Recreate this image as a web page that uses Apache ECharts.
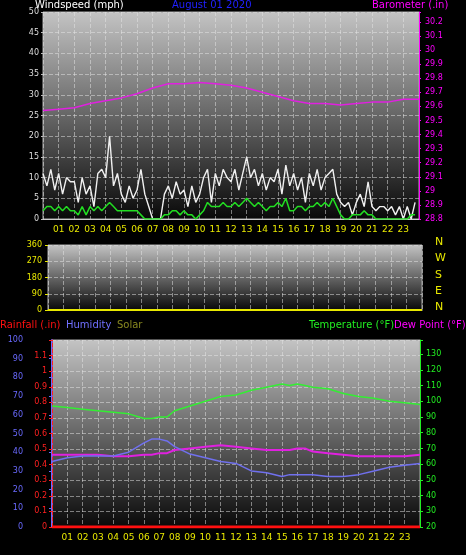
<!DOCTYPE html><html><head><meta charset="utf-8">
<script src="https://cdn.jsdelivr.net/npm/echarts@6/dist/echarts.min.js"></script>
<style>html,body{margin:0;background:#000}#c{width:466px;height:555px}</style></head><body><div id="c"></div>
<script>
var hourLabels=['01','02','03','04','05','06','07','08','09','10','11','12','13','14','15','16','17','18','19','20','21','22','23'];
var windGust=[11,8,12,7, 11,6,10,9, 9,4,10,6, 8,3,11,12, 10,20,8,11, 6,4,8,5, 7,12,6,3, 0,0,0,6, 8,5,9,6, 7,3,8,4, 6,10,12,4, 11,8,12,10, 9,12,7,11, 15,10,12,8, 11,7,10,9, 12,6,13,8, 11,7,10,4, 11,8,12,7, 10,11,12,6, 4,3,4,1, 4,6,3,9, 3,2,3,3, 2,3,1,3, 0,3,0,4];
var windAvg=[2,3,3,2, 3,2,3,2, 2,1,3,1, 3,2,3,2, 3,4,3,2, 2,2,2,2, 2,1,0,0, 0,0,0,1, 1,2,2,1, 2,1,1,0, 1,2,4,3, 3,3,4,3, 3,4,3,4, 5,4,3,4, 3,2,3,3, 4,3,5,2, 2,3,3,2, 3,3,4,3, 4,3,5,3, 1,0,0,1, 1,1,2,1, 1,0,0,0, 0,0,0,0, 0,0,1,1];
var baroHours=[0,1,2,3,4,5,6,7,8,9,10,11,12,13,14,15,16,17,18,19,20,21,22,23,24];
var baro=[29.57,29.58,29.59,29.62,29.64,29.66,29.69,29.73,29.76,29.76,29.77,29.76,29.75,29.73,29.70,29.67,29.64,29.62,29.62,29.61,29.62,29.63,29.63,29.65,29.65];
var tHours=[0,1,2,3,4,5,6,6.5,7,7.5,8,9,10,11,12,13,14,15,15.5,16,16.5,17,18,19,20,21,22,23,24];
var temp=[97,96,95,94,93,92,89,89,90,90,94,97,100,103,104,107,109,111,110,111,110,109,108,105,103,102,100,99,98];
var dew=[66,66,66,66,65,65,66,66,67,67,69,70,71,72,71,70,69,69,69,70,70,68,67,66,65,65,65,65,66];
var hum=[35,37,38,38,38,40,45,47,47,46,43,39,37,35,34,30,29,27,28,28,28,28,27,27,28,30,32,33,34];
var rainHours=[0,24];var rain=[0,0];
var dirHours=[0,24];var dir=[0,0];
function pairs(xs,ys){return ys.map(function(v,i){return [xs[i],v];});}
function q(ys){return ys.map(function(v,i){return [i*0.25,v];});}
var bg={type:'linear',x:0,y:0,x2:0,y2:1,colorStops:[{offset:0,color:'#c4c4c4'},{offset:1,color:'#080808'}]};
var F='DejaVu Sans';
function xa(gi,show){return {type:'value',gridIndex:gi,min:0,max:24,interval:1,axisLine:{lineStyle:{color:'#ccc'}},axisTick:{show:false},
 splitLine:{show:true,lineStyle:{color:'rgba(230,230,230,0.5)',type:'dashed'}},
 axisLabel:{show:show,color:'#e8e800',fontSize:9,fontFamily:F,margin:6,formatter:function(v){return (v>=1&&v<=23)?hourLabels[v-1]:'';}}};}
var grids=[{left:43,right:47,top:12,height:207,show:true,backgroundColor:bg,borderWidth:1,borderColor:'#aaa'},
{left:48,right:44,top:245,height:65,show:true,backgroundColor:bg,borderWidth:1,borderColor:'#aaa'},
{left:52,right:46,top:340,height:187,show:true,backgroundColor:bg,borderWidth:1,borderColor:'#aaa'}];
var yAxes=[
{type:'value',gridIndex:0,min:0,max:50,interval:5,axisLabel:{color:'#ddd',fontSize:8,fontFamily:F,margin:4},axisLine:{show:false},axisTick:{show:true,length:2,lineStyle:{color:'#bbb'}},splitLine:{show:true,lineStyle:{color:'rgba(230,230,230,0.5)',type:'dashed'}}},
{type:'value',gridIndex:0,position:'right',min:28.8,max:30.27,interval:0.1,axisLabel:{color:'#ff00ff',fontSize:8,fontFamily:F,margin:6,formatter:function(v){return v>30.21?'':String(+v.toFixed(1));}},axisLine:{show:true,lineStyle:{color:'#ff00ff'}},axisTick:{show:true,length:2},splitLine:{show:false}},
{type:'value',gridIndex:1,min:0,max:360,interval:90,axisLabel:{color:'#e8e800',fontSize:8,fontFamily:F,margin:6},axisLine:{show:false},axisTick:{show:true,length:3,lineStyle:{color:'#e8e800'}},splitLine:{show:true,lineStyle:{color:'rgba(230,230,230,0.5)',type:'dashed'}}},
{type:'value',gridIndex:2,position:'left',min:0,max:100,interval:10,offset:23,axisLabel:{color:'#6a6aff',fontSize:8,fontFamily:F,margin:6},axisLine:{show:true,lineStyle:{color:'#6a6aff',width:2}},axisTick:{show:true,length:3},splitLine:{show:false}},
{type:'value',gridIndex:2,position:'left',offset:0,min:0,max:1.2,interval:0.1,axisLabel:{color:'#ff2020',fontSize:8,fontFamily:F,margin:5,formatter:function(v){return v>1.15?'':String(+v.toFixed(1));}},axisLine:{show:true,lineStyle:{color:'#ff2020',type:'dashed'}},axisTick:{show:true,length:3},splitLine:{show:true,lineStyle:{color:'rgba(230,230,230,0.5)',type:'dashed'}}},
{type:'value',gridIndex:2,position:'right',min:20,max:139,interval:10,axisLabel:{color:'#22ee22',fontSize:8,fontFamily:F,margin:6,formatter:function(v){return v>135?'':v;}},axisLine:{show:true,lineStyle:{color:'#22ee22'}},axisTick:{show:true,length:3},splitLine:{show:false}}];
var ln=function(name,xi,yi,data,color,w){return {name:name,type:'line',xAxisIndex:xi,yAxisIndex:yi,data:data,showSymbol:false,lineStyle:{color:color,width:w||1.5},silent:true,animation:false};};
var opt={backgroundColor:'#000',animation:false,grid:grids,
xAxis:[xa(0,true),xa(1,false),xa(2,true)],yAxis:yAxes,
series:[ln('gust',0,0,q(windGust),'#f0f0f0',1.4),ln('avg',0,0,q(windAvg),'#22dd22',1.5),ln('baro',0,1,pairs(baroHours,baro),'#e020e0',1.5),
ln('dir',1,2,pairs(dirHours,dir),'#e8e800',2),
ln('temp',2,5,pairs(tHours,temp),'#33ee33',1.5),ln('dew',2,5,pairs(tHours,dew),'#e020e0',2),ln('hum',2,3,pairs(tHours,hum),'#7070ee',1.5),ln('rain',2,4,pairs(rainHours,rain),'#ff1010',3)],
graphic:[
{type:'text',left:35,top:0,style:{text:'Windspeed (mph)',fill:'#fff',font:'10px '+F}},
{type:'text',left:172,top:0,style:{text:'August 01 2020',fill:'#2020ff',font:'10px '+F}},
{type:'text',left:372,top:0,style:{text:'Barometer (.in)',fill:'#ff00ff',font:'10px '+F}},
{type:'text',left:435,top:237,style:{text:'N',fill:'#e8e800',font:'11px '+F}},
{type:'text',left:435,top:253,style:{text:'W',fill:'#e8e800',font:'11px '+F}},
{type:'text',left:435,top:270,style:{text:'S',fill:'#e8e800',font:'11px '+F}},
{type:'text',left:435,top:286,style:{text:'E',fill:'#e8e800',font:'11px '+F}},
{type:'text',left:435,top:302,style:{text:'N',fill:'#e8e800',font:'11px '+F}},
{type:'text',left:0,top:320,style:{text:'Rainfall (.in)',fill:'#ff1010',font:'10px '+F}},
{type:'text',left:66,top:320,style:{text:'Humidity',fill:'#7070ff',font:'10px '+F}},
{type:'text',left:117,top:320,style:{text:'Solar',fill:'#888820',font:'10px '+F}},
{type:'text',left:309,top:320,style:{text:'Temperature (°F)',fill:'#22ee22',font:'10px '+F}},
{type:'text',left:394,top:320,style:{text:'Dew Point (°F)',fill:'#ff00ff',font:'10px '+F}}]};
echarts.init(document.getElementById('c')).setOption(opt);
</script></body></html>
